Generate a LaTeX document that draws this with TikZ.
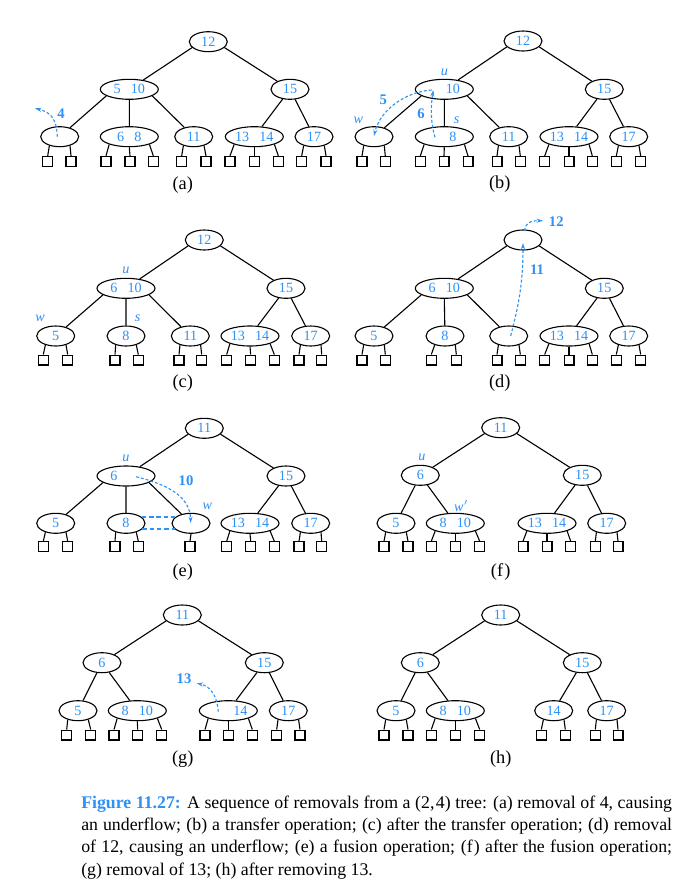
\documentclass[tikz,border=0pt]{standalone}
\usepackage{fontspec}
\setmainfont{Liberation Serif}
\usetikzlibrary{shapes.geometric,arrows.meta}
\definecolor{keyblue}{RGB}{45,145,245}
\newcommand\kgap{\hspace{5.5pt}}

\begin{document}
\begin{tikzpicture}[x=0.545pt,y=-0.545pt,line width=0.6pt,
    every node/.style={font=\fontsize{7.7}{9}\selectfont},
    knode/.style={draw,ellipse,inner sep=0pt,minimum width=20.7pt,minimum height=10.9pt,text=keyblue},
    wnode/.style={knode,minimum width=31.6pt},
    ext/.style={draw,rectangle,inner sep=0pt,minimum size=5.4pt},
    tag/.style={text=keyblue,font=\fontsize{7.7}{9}\selectfont\itshape},
    moved/.style={text=keyblue,font=\fontsize{8}{9}\selectfont\bfseries},
    dashmove/.style={keyblue,dash pattern=on 1.6pt off 1.1pt,-{Stealth[length=3.5pt,width=2.2pt]}},
    fuse/.style={keyblue,line width=0.8pt,dash pattern=on 2.5pt off 1.5pt},
    plabel/.style={font=\fontsize{10}{12}\selectfont}]
  \useasboundingbox (0,0) rectangle (686,891);
  \fill[white] (0,0) rectangle (686,891);

  % (a)
  \node[knode] (a) at (208.3,41.7) {12};
  \node[wnode] (a-1) at (129.3,89.3) {5\kgap10};
  \node[knode] (a-2) at (290,89.3) {15};
  \node[knode] (a-1-1) at (59.7,136.7) {};
  \node[wnode] (a-1-2) at (129.3,136.7) {6\kgap8};
  \node[knode] (a-1-3) at (193.7,136.7) {11};
  \node[wnode] (a-2-1) at (254.3,136.7) {13\kgap14};
  \node[knode] (a-2-2) at (314,136.7) {17};
  \draw (a.200) -- (a-1) (a.340) -- (a-2)
        (a-1.196) -- (a-1-1) (a-1.270) -- (a-1-2) (a-1.344) -- (a-1-3)
        (a-2) -- (a-2-1) (a-2) -- (a-2-2);
  \foreach \n/\x/\ang [count=\i] in {a-1-1/47.7/221,a-1-1/71/319,a-1-2/106/201,a-1-2/130/270,
      a-1-2/153.3/339,a-1-3/181.7/221,a-1-3/206/319,a-2-1/230/201,a-2-1/254.3/270,
      a-2-1/278.3/339,a-2-2/301.7/221,a-2-2/326/319}
    {\node[ext] (\n-\i) at (\x,161.3) {}; \draw (\n.\ang) -- (\n-\i.north);}
  \node[plabel] (a-cap) at (182.7,185) {(a)};
  \node[moved] (a-out) at (61,114) {4};
  \coordinate (a-from) at (57.3,136.7);
  \coordinate (a-to) at (35,108.3);
  \draw[dashmove] (a-from) .. controls (56.7,118) and (50,112) .. (a-to);

  % (b)
  \node[knode] (b) at (523,41) {12};
  \node[wnode] (b-1) at (444.3,89.3) {\phantom{5}\kgap10};
  \node[knode] (b-2) at (604.3,89.3) {15};
  \node[knode] (b-1-1) at (374,136.7) {};
  \node[wnode] (b-1-2) at (444.3,136.7) {\phantom{6}\kgap8};
  \node[knode] (b-1-3) at (508.7,136.7) {11};
  \node[wnode] (b-2-1) at (569,136.7) {13\kgap14};
  \node[knode] (b-2-2) at (628.7,136.7) {17};
  \draw (b.200) -- (b-1) (b.340) -- (b-2)
        (b-1.196) -- (b-1-1) (b-1.270) -- (b-1-2) (b-1.344) -- (b-1-3)
        (b-2) -- (b-2-1) (b-2) -- (b-2-2);
  \foreach \n/\x/\ang [count=\i] in {b-1-1/362/221,b-1-1/385.3/319,b-1-2/420.3/201,b-1-2/444/270,
      b-1-2/468/339,b-1-3/497/221,b-1-3/520.3/319,b-2-1/544.7/201,b-2-1/569/270,
      b-2-1/592.3/339,b-2-2/616.3/221,b-2-2/640.7/319}
    {\node[ext] (\n-\i) at (\x,161.5) {}; \draw (\n.\ang) -- (\n-\i.north);}
  \node[plabel] (b-cap) at (499.7,184.3) {(b)};
  \node[tag] (b-u) at (444.3,72.2) {u};
  \node[tag] (b-w) at (358.3,120) {w};
  \node[tag] (b-s) at (456.7,120) {s};
  \node[moved] (b-five) at (383.3,99.3) {5};
  \node[moved] (b-six) at (421,113.3) {6};
  \coordinate (b-key) at (431.7,90);
  \coordinate (b-down) at (374,136);
  \coordinate (b-up) at (435,137.3);
  \coordinate (b-top) at (433.3,90);
  \draw[dashmove] (b-key) .. controls (405,92) and (380,110) .. (b-down);
  \draw[dashmove] (b-up) .. controls (430,120) and (431,105) .. (b-top);

  % (c)
  \node[knode] (c) at (204.3,240) {12};
  \node[wnode] (c-1) at (126,288.3) {6\kgap10};
  \node[knode] (c-2) at (286,288.3) {15};
  \node[knode] (c-1-1) at (55.7,336) {5};
  \node[knode] (c-1-2) at (126,336) {8};
  \node[knode] (c-1-3) at (190.3,336) {11};
  \node[wnode] (c-2-1) at (250,336) {13\kgap14};
  \node[knode] (c-2-2) at (310.7,336) {17};
  \draw (c.200) -- (c-1) (c.340) -- (c-2)
        (c-1.196) -- (c-1-1) (c-1.270) -- (c-1-2) (c-1.344) -- (c-1-3)
        (c-2) -- (c-2-1) (c-2) -- (c-2-2);
  \foreach \n/\x/\ang [count=\i] in {c-1-1/43.3/221,c-1-1/67.7/319,c-1-2/115/221,c-1-2/138.3/319,
      c-1-3/179/221,c-1-3/201.7/319,c-2-1/226.7/201,c-2-1/250.7/270,c-2-1/274.3/339,
      c-2-2/299/221,c-2-2/321.7/319}
    {\node[ext] (\n-\i) at (\x,360) {}; \draw (\n.\ang) -- (\n-\i.north);}
  \node[plabel] (c-cap) at (182.7,383.3) {(c)};
  \node[tag] (c-u) at (126,270.7) {u};
  \node[tag] (c-w) at (40,318.3) {w};
  \node[tag] (c-s) at (137.7,318.3) {s};

  % (d)
  \node[knode] (d) at (523,240) {};
  \node[wnode] (d-1) at (444.3,288.3) {6\kgap10};
  \node[knode] (d-2) at (604.3,288.3) {15};
  \node[knode] (d-1-1) at (374,336) {5};
  \node[knode] (d-1-2) at (445,336) {8};
  \node[knode] (d-1-3) at (508.7,336) {};
  \node[wnode] (d-2-1) at (569,336) {13\kgap14};
  \node[knode] (d-2-2) at (628.7,336) {17};
  \draw (d.200) -- (d-1) (d.340) -- (d-2)
        (d-1.196) -- (d-1-1) (d-1.270) -- (d-1-2) (d-1.344) -- (d-1-3)
        (d-2) -- (d-2-1) (d-2) -- (d-2-2);
  \foreach \n/\x/\ang [count=\i] in {d-1-1/362/221,d-1-1/385.3/319,d-1-2/431.3/221,d-1-2/456.3/319,
      d-1-3/497/221,d-1-3/520.3/319,d-2-1/544.7/201,d-2-1/569/270,d-2-1/592.3/339,
      d-2-2/616.3/221,d-2-2/640.7/319}
    {\node[ext] (\n-\i) at (\x,360) {}; \draw (\n.\ang) -- (\n-\i.north);}
  \node[plabel] (d-cap) at (499.7,383.3) {(d)};
  \node[moved] (d-eleven) at (537,270) {11};
  \node[moved] (d-twelve) at (556.3,221.7) {12};
  \coordinate (d-from) at (510.7,336);
  \coordinate (d-root) at (523,243);
  \coordinate (d-lift) at (524.7,231);
  \coordinate (d-away) at (543,220.7);
  \draw[dashmove] (d-from) .. controls (520,300) and (523,280) .. (d-root);
  \draw[dashmove] (d-lift) .. controls (525,223) and (530,220.7) .. (d-away);

  % (e)
  \node[knode] (e) at (204.3,428.3) {11};
  \node[wnode] (e-1) at (126,476) {6\kgap\phantom{10}};
  \node[knode] (e-2) at (286,476) {15};
  \node[knode] (e-1-1) at (55.7,523.3) {5};
  \node[knode] (e-1-2) at (126,523.3) {8};
  \node[knode] (e-1-3) at (191,523.3) {};
  \node[wnode] (e-2-1) at (250,523.3) {13\kgap14};
  \node[knode] (e-2-2) at (310.7,523.3) {17};
  \draw (e.200) -- (e-1) (e.340) -- (e-2)
        (e-1.196) -- (e-1-1) (e-1.270) -- (e-1-2) (e-1.344) -- (e-1-3)
        (e-2) -- (e-2-1) (e-2) -- (e-2-2);
  \foreach \n/\x/\ang [count=\i] in {e-1-1/43.3/221,e-1-1/67.7/319,e-1-2/115/221,e-1-2/138.3/319,
      e-1-3/190/270,e-2-1/226.7/201,e-2-1/250.7/270,e-2-1/274.3/339,
      e-2-2/299/221,e-2-2/321.7/319}
    {\node[ext] (\n-\i) at (\x,546.7) {}; \draw (\n.\ang) -- (\n-\i.north);}
  \node[plabel] (e-cap) at (182.7,571.7) {(e)};
  \node[tag] (e-u) at (126,458.3) {u};
  \node[tag] (e-w) at (207.3,506) {w};
  \node[moved] (e-ten) at (186,481) {10};
  \coordinate (e-from) at (136,476.7);
  \coordinate (e-to) at (190.7,523);
  \draw[dashmove] (e-from) .. controls (165,484) and (190,495) .. (e-to);
  \draw[fuse] (e-1-2.22) -- (e-1-3.158);
  \draw[fuse] (e-1-2.-20) -- (e-1-3.200);

  % (f)
  \node[knode] (f) at (500.7,427.7) {11};
  \node[knode] (f-1) at (420.3,475.3) {6};
  \node[knode] (f-2) at (582.3,475.3) {15};
  \node[knode] (f-1-1) at (396,523.3) {5};
  \node[wnode] (f-1-2) at (455.3,523.3) {8\kgap10};
  \node[wnode] (f-2-1) at (547,523.3) {13\kgap14};
  \node[knode] (f-2-2) at (606.7,523.3) {17};
  \draw (f.200) -- (f-1) (f.340) -- (f-2)
        (f-1) -- (f-1-1) (f-1) -- (f-1-2)
        (f-2) -- (f-2-1) (f-2) -- (f-2-2);
  \foreach \n/\x/\ang [count=\i] in {f-1-1/384/221,f-1-1/408/319,f-1-2/431.3/201,f-1-2/455.3/270,
      f-1-2/479.7/339,f-2-1/523/201,f-2-1/547/270,f-2-1/570.7/339,
      f-2-2/595.3/221,f-2-2/618/319}
    {\node[ext] (\n-\i) at (\x,546.7) {}; \draw (\n.\ang) -- (\n-\i.north);}
  \node[plabel] (f-cap) at (500.7,571.7) {(f\kern0.6pt)};
  \node[tag] (f-u) at (422,457.7) {u};
  \node[tag] (f-w) at (461.3,506) {w$'$};

  % (g)
  \node[knode] (g) at (182.3,615) {11};
  \node[knode] (g-1) at (102,662.7) {6};
  \node[knode] (g-2) at (264.3,662.7) {15};
  \node[knode] (g-1-1) at (78,710.7) {5};
  \node[wnode] (g-1-2) at (137.3,710.7) {8\kgap10};
  \node[wnode] (g-2-1) at (228.3,710.7) {\phantom{13}\kgap14};
  \node[knode] (g-2-2) at (288.3,710.7) {17};
  \draw (g.200) -- (g-1) (g.340) -- (g-2)
        (g-1) -- (g-1-1) (g-1) -- (g-1-2)
        (g-2) -- (g-2-1) (g-2) -- (g-2-2);
  \foreach \n/\x/\ang [count=\i] in {g-1-1/66.7/221,g-1-1/90.7/319,g-1-2/114/201,g-1-2/137.7/270,
      g-1-2/161.7/339,g-2-1/205/201,g-2-1/228.3/270,g-2-1/252.3/339,
      g-2-2/276.7/221,g-2-2/300/319}
    {\node[ext] (\n-\i) at (\x,735) {}; \draw (\n.\ang) -- (\n-\i.north);}
  \node[plabel] (g-cap) at (182.7,759.3) {(g)};
  \node[moved] (g-out) at (184,678.3) {13};
  \coordinate (g-from) at (218.3,711.7);
  \coordinate (g-to) at (196.7,683.3);
  \draw[dashmove] (g-from) .. controls (217,695) and (210,686) .. (g-to);

  % (h)
  \node[knode] (h) at (500.7,615) {11};
  \node[knode] (h-1) at (420.3,662.7) {6};
  \node[knode] (h-2) at (582.3,662.7) {15};
  \node[knode] (h-1-1) at (396,710.7) {5};
  \node[wnode] (h-1-2) at (455.3,710.7) {8\kgap10};
  \node[knode] (h-2-1) at (553.7,710.7) {14};
  \node[knode] (h-2-2) at (606.7,710.7) {17};
  \draw (h.200) -- (h-1) (h.340) -- (h-2)
        (h-1) -- (h-1-1) (h-1) -- (h-1-2)
        (h-2) -- (h-2-1) (h-2) -- (h-2-2);
  \foreach \n/\x/\ang [count=\i] in {h-1-1/384/221,h-1-1/408/319,h-1-2/431.3/201,h-1-2/455.3/270,
      h-1-2/479.7/339,h-2-1/541.3/221,h-2-1/565.3/319,
      h-2-2/595.3/221,h-2-2/618/319}
    {\node[ext] (\n-\i) at (\x,735) {}; \draw (\n.\ang) -- (\n-\i.north);}
  \node[plabel] (h-cap) at (500.7,759.3) {(h)};

  \node[anchor=base west,inner sep=0pt,text width=322pt,align=justify,
        font=\fontsize{9.7}{12.15}\selectfont] (caption) at (80.7,808.3)
    {\textcolor{keyblue}{\bfseries Figure 11.27:} A sequence of removals from a (2,\kern0.8pt4) tree:
     (a)~removal of 4, causing\linebreak an underflow; (b) a transfer operation; (c) after the
     transfer operation; (d) removal\linebreak of 12, causing an underflow; (e) a fusion operation;
     (f\kern0.6pt) after the fusion operation;\linebreak (g) removal of 13; (h) after removing 13.};
\end{tikzpicture}
\end{document}
